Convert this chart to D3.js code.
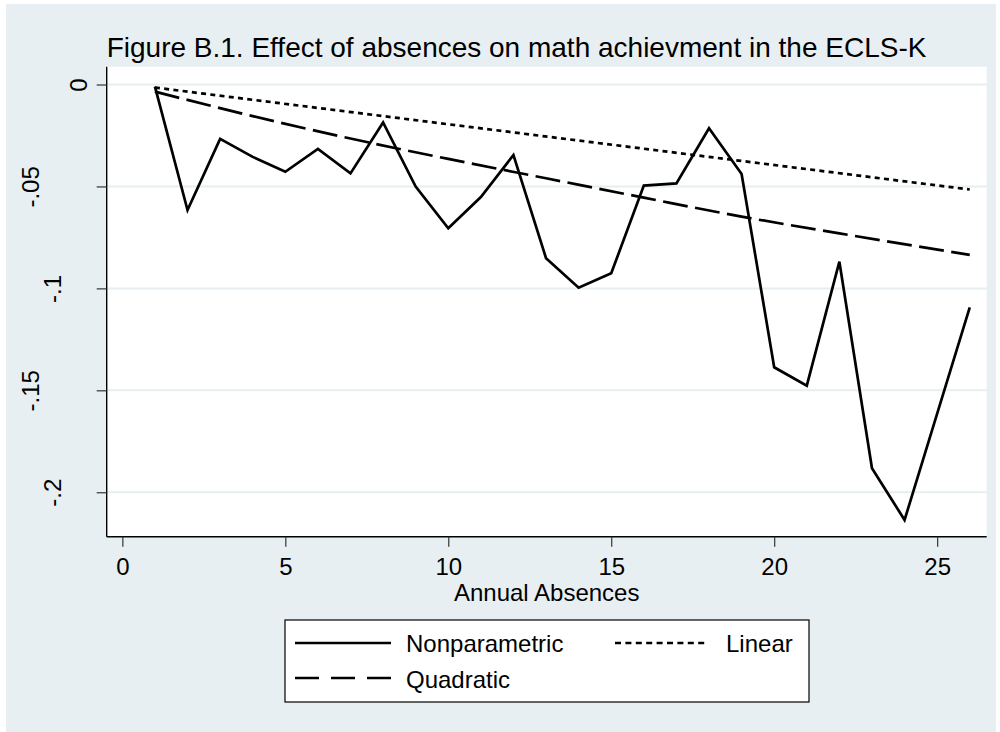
<!DOCTYPE html>
<html>
<head>
<meta charset="utf-8">
<script src="https://cdn.jsdelivr.net/npm/d3@7"></script>
<style>
  html, body { margin: 0; padding: 0; background: #ffffff; }
  svg { display: block; font-family: "Liberation Sans", Arial, sans-serif; }
</style>
</head>
<body>
<svg id="chart" width="1000" height="732"></svg>
<script>
// ---- data ----
const titleText = "Figure B.1. Effect of absences on math achievment in the ECLS-K";
const xAxisTitle = "Annual Absences";
const xTicks = [0, 5, 10, 15, 20, 25];
const yTicks = [0, -0.05, -0.1, -0.15, -0.2];
const yTickLabels = ["0", "-.05", "-.1", "-.15", "-.2"];

const absences = [1, 2, 3, 4, 5, 6, 7, 8, 9, 10, 11, 12, 13, 14, 15, 16, 17, 18, 19, 20, 21, 22, 23, 24, 25, 26];
const nonparametric = [-0.001, -0.0616, -0.0267, -0.0355, -0.0428, -0.0316, -0.0436, -0.0186, -0.0501, -0.0705,
  -0.0552, -0.0346, -0.0852, -0.0997, -0.0926, -0.0496, -0.0485, -0.0215, -0.0439, -0.1387,
  -0.1477, -0.0869, -0.1882, -0.2136, -0.1614, -0.1093];

const linearX = [1, 26];
const linearY = [-0.0015, -0.0515];

const quadX = [1, 4, 7, 10, 13, 16, 19, 22, 26];
const quadY = [-0.0035, -0.0155, -0.0265, -0.0365, -0.046, -0.0555, -0.0648, -0.073, -0.0836];

const legendItems = ["Nonparametric", "Linear", "Quadratic"];

// ---- layout ----
const svg = d3.select("#chart");
const plot = { left: 106.7, right: 986.7, top: 66.7, bottom: 536.7 };
const bgColor = "#e8eff2";
const gridColor = "#e6eef1";

svg.append("rect").attr("x", 6).attr("y", 4).attr("width", 990).attr("height", 728).attr("fill", bgColor);
svg.append("rect").attr("x", plot.left).attr("y", plot.top)
  .attr("width", plot.right - plot.left).attr("height", plot.bottom - plot.top).attr("fill", "#ffffff");

const x = d3.scaleLinear().domain([-0.48, 26.52]).range([plot.left, plot.right]);
const y = d3.scaleLinear().domain([0.00873, -0.2218]).range([plot.top, plot.bottom]);

// gridlines
svg.append("g").selectAll("line").data(yTicks).join("line")
  .attr("x1", plot.left).attr("x2", plot.right)
  .attr("y1", d => y(d)).attr("y2", d => y(d))
  .attr("stroke", gridColor).attr("stroke-width", 2);

// y axis
const yAxis = d3.axisLeft(y).tickValues(yTicks).tickSize(10).tickSizeOuter(0)
  .tickFormat((d, i) => yTickLabels[i]);
const gy = svg.append("g").attr("transform", `translate(${plot.left},0)`).call(yAxis);
gy.select(".domain").attr("stroke", "#000").attr("stroke-width", 1.4)
  .attr("d", `M0,${plot.top}V${plot.bottom}`);
gy.selectAll(".tick line").attr("stroke", "#333").attr("stroke-width", 1.2);
gy.selectAll(".tick text")
  .attr("font-size", 24).attr("fill", "#000")
  .attr("text-anchor", "middle")
  .attr("x", null).attr("dy", null)
  .attr("transform", (d, i) => {
    const base = i === 0 ? -20 : (i % 2 === 1 ? -68 : -46);
    return `translate(${base},0) rotate(-90)`;
  })
  .attr("y", 0);

// x axis
const xAxis = d3.axisBottom(x).tickValues(xTicks).tickSize(10).tickSizeOuter(0).tickFormat(d3.format("d"));
const gx = svg.append("g").attr("transform", `translate(0,${plot.bottom})`).call(xAxis);
gx.select(".domain").attr("stroke", "#000").attr("stroke-width", 1.4)
  .attr("d", `M${plot.left},0H${plot.right}`);
gx.selectAll(".tick line").attr("stroke", "#333").attr("stroke-width", 1.2);
gx.selectAll(".tick text").attr("font-size", 24).attr("fill", "#000")
  .attr("y", 38).attr("dy", null);

// title
svg.append("text").attr("x", plot.left).attr("y", 57).attr("font-size", 28).attr("fill", "#000")
  .text(titleText);

// x axis title
svg.append("text").attr("x", (plot.left + plot.right) / 2).attr("y", 601)
  .attr("text-anchor", "middle").attr("font-size", 24).attr("fill", "#000").text(xAxisTitle);

// lines
const lineGen = d3.line().x(d => x(d[0])).y(d => y(d[1]));
const npData = absences.map((a, i) => [a, nonparametric[i]]);
const linData = linearX.map((a, i) => [a, linearY[i]]);
const quadData = quadX.map((a, i) => [a, quadY[i]]);
const quadLine = d3.line().x(d => x(d[0])).y(d => y(d[1])).curve(d3.curveMonotoneX);

svg.append("path").datum(linData).attr("d", lineGen)
  .attr("fill", "none").attr("stroke", "#000").attr("stroke-width", 2.7)
  .attr("stroke-dasharray", "5,4.3");
svg.append("path").datum(quadData).attr("d", quadLine)
  .attr("fill", "none").attr("stroke", "#000").attr("stroke-width", 2.7)
  .attr("stroke-dasharray", "25,7.5");
svg.append("path").datum(npData).attr("d", lineGen)
  .attr("fill", "none").attr("stroke", "#000").attr("stroke-width", 2.7)
  .attr("stroke-linejoin", "miter");

// legend
const lg = svg.append("g");
lg.append("rect").attr("x", 285).attr("y", 620).attr("width", 524).attr("height", 82)
  .attr("fill", "#fff").attr("stroke", "#000").attr("stroke-width", 1.2);
const legendPos = {
  Nonparametric: { x0: 295, x1: 391, ly: 643, tx: 406, ty: 652 },
  Linear: { x0: 615, x1: 708, ly: 643, tx: 726, ty: 652 },
  Quadratic: { x0: 295, x1: 391, ly: 678, tx: 406, ty: 688 }
};
legendItems.forEach(name => {
  const p = legendPos[name];
  lg.append("line").attr("x1", p.x0).attr("x2", p.x1).attr("y1", p.ly).attr("y2", p.ly)
    .attr("stroke", "#000").attr("stroke-width", 2.7)
    .attr("stroke-dasharray", name === "Quadratic" ? "24,12" : (name === "Linear" ? "6,4.4" : null));
  lg.append("text").attr("x", p.tx).attr("y", p.ty).attr("font-size", 24).attr("fill", "#000").text(name);
});
</script>
</body>
</html>
